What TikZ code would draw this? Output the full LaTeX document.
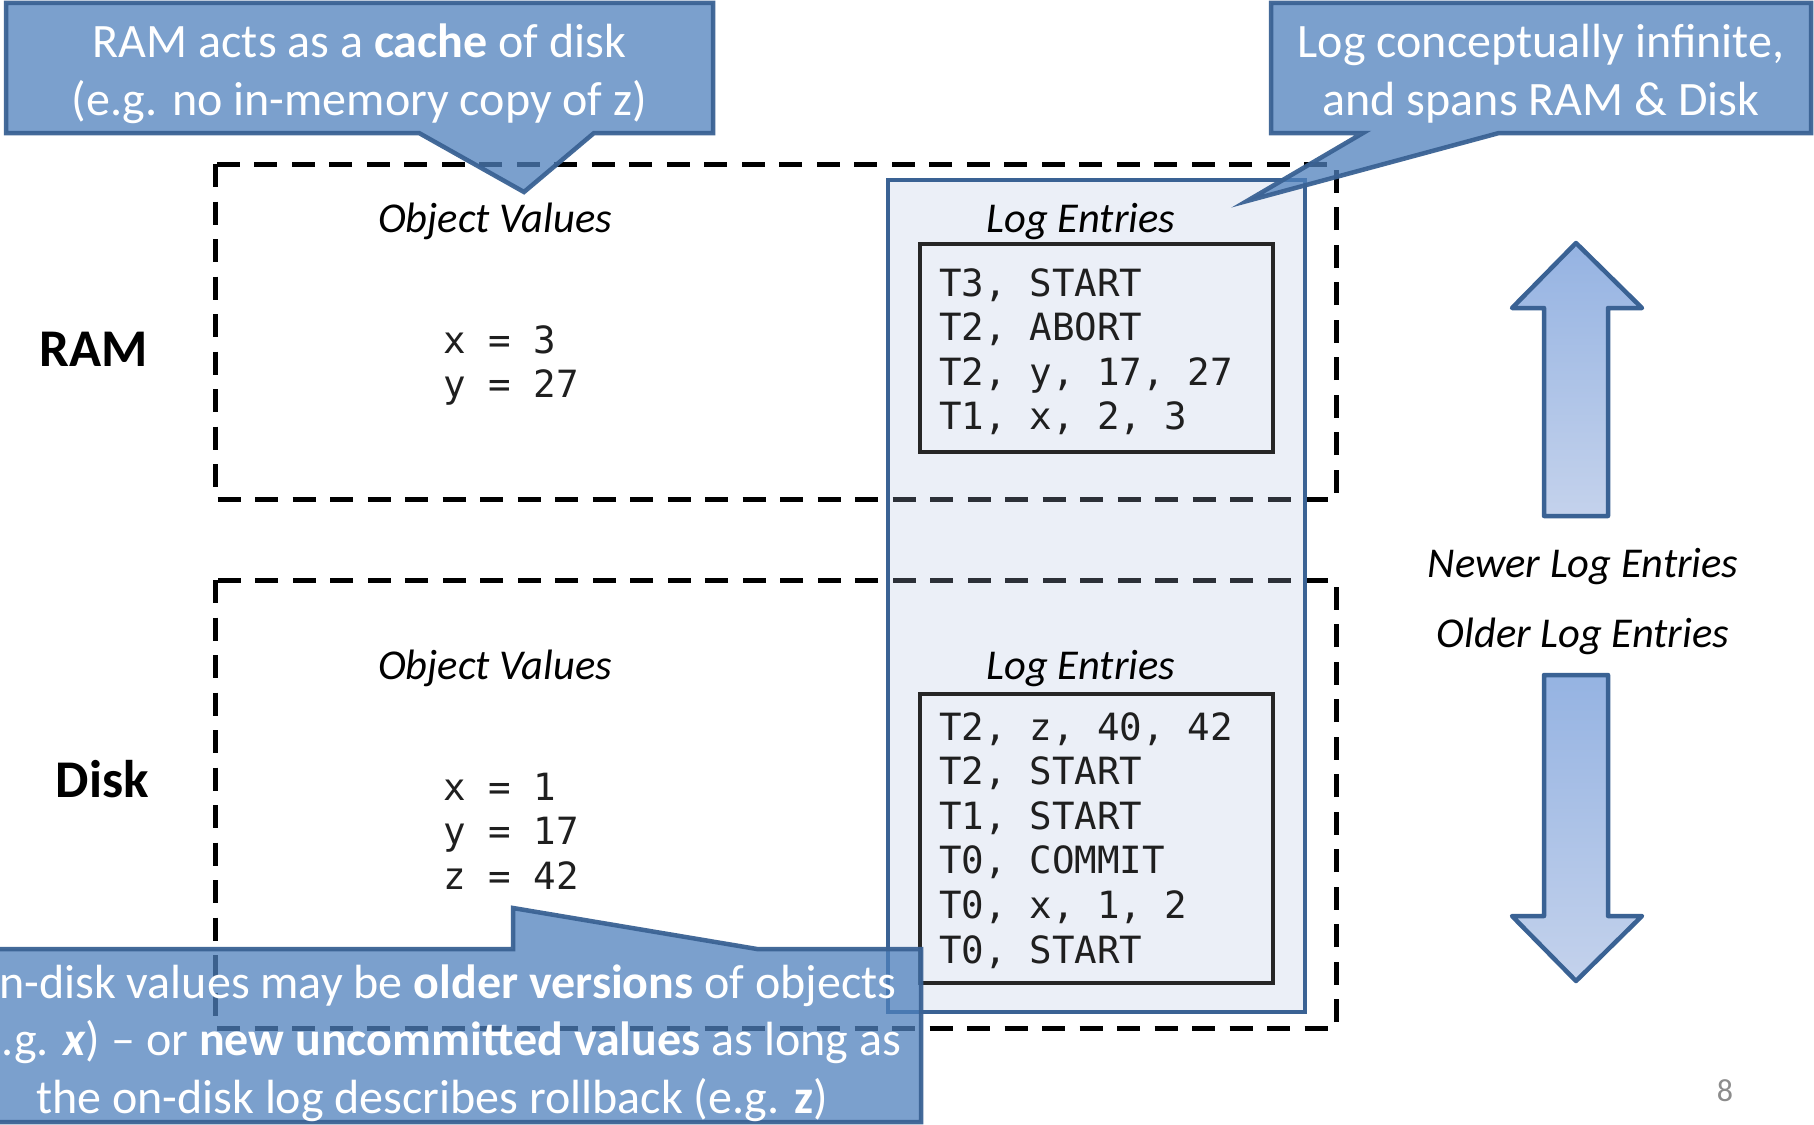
\documentclass[tikz,border=0pt]{standalone}
\usepackage{fontspec}
\setmainfont{Carlito}
\newfontfamily\monofnt{DejaVu Sans Mono}
\definecolor{accent}{HTML}{4F81BD}
\definecolor{accentdark}{HTML}{3A6294}
\definecolor{colfill}{rgb}{0.70,0.764,0.892}
\definecolor{boxline}{HTML}{262626}
\definecolor{arrowtop}{HTML}{95B3E2}
\definecolor{arrowbot}{HTML}{C4D2EC}
\definecolor{pagegray}{HTML}{8C8C8C}
\begin{document}
\begin{tikzpicture}[x=1pt,y=-1pt,
  dashbox/.style={draw=black,line width=5pt,dash pattern=on 23pt off 14.5pt},
  logcol/.style={fill=colfill,fill opacity=0.25,draw=accentdark,line width=4.5pt},
  logbox/.style={draw=boxline,line width=4pt},
  callout/.style={fill=accent,fill opacity=0.75,draw=accentdark,draw opacity=0.95,line width=4.5pt},
  bigarrow/.style={top color=arrowtop,bottom color=arrowbot,draw=accentdark,line width=4.5pt,line join=round},
  calltext/.style={text=white,inner sep=0pt,anchor=base,font=\fontsize{48}{58}\selectfont},
  headtext/.style={inner sep=0pt,anchor=base,font=\fontsize{42.5}{50}\selectfont\itshape},
  sidetext/.style={inner sep=0pt,anchor=base east,font=\fontsize{53}{60}\selectfont\bfseries},
  arrowlabel/.style={inner sep=0pt,anchor=base,font=\fontsize{42.5}{50}\selectfont\itshape},
  monotext/.style={inner sep=0pt,anchor=base west,font=\fontsize{37.5}{44.6}\selectfont\monofnt,text=black!88},
  pagenum/.style={inner sep=0pt,anchor=base,text=pagegray,font=\fontsize{32}{38}\selectfont}
]
\useasboundingbox (0,0) rectangle (1814,1124);
\fill[white] (0,0) rectangle (1814,1124);
\clip (0,0) rectangle (1814,1124);

% dashed memory regions
\draw[dashbox] (215,164) rectangle (1336,499);
\draw[dashbox] (215,580) rectangle (1336,1028);

% log column
\draw[logcol] (888,180) rectangle (1305,1012);
\draw[logbox] (919.5,244) rectangle (1272.5,452);
\draw[logbox] (919.5,694) rectangle (1272.5,983);

% side labels
\node[sidetext] (ram) at (148,366) {RAM};
\node[sidetext] (disk) at (149,797) {Disk};

% headings
\node[headtext] (ov1) at (495,232) {Object Values};
\node[headtext] (ov2) at (495,679) {Object Values};
\node[headtext] (le1) at (1081,232) {Log Entries};
\node[headtext] (le2) at (1081,679) {Log Entries};

% object values
\node[monotext] (rv1) at (443,353) {x = 3};
\node[monotext] (rv2) at (443,397.6) {y = 27};
\node[monotext] (dv1) at (443,800) {x = 1};
\node[monotext] (dv2) at (443,844.6) {y = 17};
\node[monotext] (dv3) at (443,889.2) {z = 42};

% RAM log entries
\node[monotext] (rl1) at (939,296) {T3, START};
\node[monotext] (rl2) at (939,340.6) {T2, ABORT};
\node[monotext] (rl3) at (939,385.2) {T2, y, 17, 27};
\node[monotext] (rl4) at (939,429.8) {T1, x, 2, 3};

% Disk log entries
\node[monotext] (dl1) at (939,740) {T2, z, 40, 42};
\node[monotext] (dl2) at (939,784.6) {T2, START};
\node[monotext] (dl3) at (939,829.2) {T1, START};
\node[monotext] (dl4) at (939,873.8) {T0, COMMIT};
\node[monotext] (dl5) at (939,918.4) {T0, x, 1, 2};
\node[monotext] (dl6) at (939,963) {T0, START};

% arrows
\draw[bigarrow] (1576,243) -- (1642,308) -- (1608,308) -- (1608,516) -- (1544,516) -- (1544,308) -- (1512,308) -- cycle;
\draw[bigarrow] (1544,675) -- (1608,675) -- (1608,916) -- (1642,916) -- (1576,981) -- (1512,916) -- (1544,916) -- cycle;
\node[arrowlabel] (newer) at (1583,577) {Newer Log Entries};
\node[arrowlabel] (older) at (1583,647) {Older Log Entries};

% page number
\node[pagenum] (pg) at (1725,1101) {8};

% callouts
\draw[callout] (6,3) -- (713,3) -- (713,133) -- (594,133) -- (524,192) -- (419,133) -- (6,133) -- cycle;
\node[calltext] (c1a) at (359.5,57) {RAM acts as a \textbf{cache} of disk};
\node[calltext] (c1b) at (359.5,115) {(e.g. no in-memory copy of z)};

\draw[callout] (1271,3) -- (1811,3) -- (1811,133) -- (1499,133) -- (1247,201) -- (1363,133) -- (1271,133) -- cycle;
\node[calltext] (c2a) at (1541,57) {Log conceptually infinite,};
\node[calltext] (c2b) at (1541,115) {and spans RAM \& Disk};

\draw[callout] (-54,949) -- (513,949) -- (513,908) -- (757,949) -- (921,949) -- (921,1122) -- (-54,1122) -- cycle;
\node[calltext] (c3a) at (432,998) {On-disk values may be \textbf{older versions} of objects};
\node[calltext] (c3b) at (432,1055) {(e.g. \textbf{\textit{x}}) – or \textbf{new uncommitted values} as long as};
\node[calltext] (c3c) at (432,1113) {the on-disk log describes rollback (e.g. \textbf{z})};
\end{tikzpicture}
\end{document}
